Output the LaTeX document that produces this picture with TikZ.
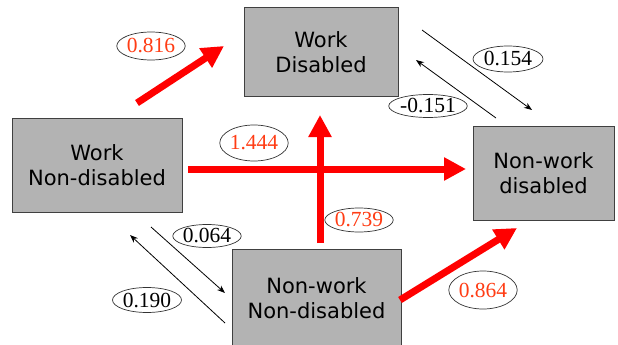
\documentclass[tikz,border=0pt]{standalone}
\usepackage{fontspec}
\setmainfont{Liberation Serif}
\newfontfamily\boxfont{DejaVu Sans}
\usetikzlibrary{arrows.meta,shapes.geometric}
\definecolor{boxgray}{RGB}{179,179,179}
\definecolor{boxedge}{RGB}{64,64,64}
\definecolor{numred}{RGB}{255,60,20}
\tikzset{
  statebox/.style={draw=boxedge,line width=1pt,fill=boxgray,align=center,inner sep=0pt,
    font=\boxfont\fontsize{21}{25}\selectfont},
  bigarrow/.style={draw=red,line width=7pt,-{Triangle[length=22pt,width=22pt]}},
  thinarrow/.style={draw=black,line width=0.8pt,-{Stealth[length=8pt,width=6pt]}},
  numlabel/.style={ellipse,draw=black!80,line width=0.7pt,inner sep=0pt,
    font=\fontsize{21.5}{24}\selectfont},
}
\begin{document}
\begin{tikzpicture}[x=1pt,y=-1pt]
\useasboundingbox (0,0) rectangle (618,345);
\clip (0,0) rectangle (618,345);
% boxes
\node[statebox,minimum width=154pt,minimum height=88pt] (wd) at (321,52) {Work\\Disabled};
\node[statebox,minimum width=170pt,minimum height=94pt] (wn) at (97,165) {Work\\Non-disabled};
\node[statebox,minimum width=141pt,minimum height=94pt] (nd) at (543.5,173) {Non-work\\disabled};
\node[statebox,minimum width=169pt,minimum height=98pt] (nn) at (316.5,298) {Non-work\\Non-disabled};
% arrow endpoints
\coordinate (r1s) at (137,103); \coordinate (r1e) at (224,46);
\coordinate (r2s) at (188,169); \coordinate (r2e) at (466,169);
\coordinate (r3s) at (320,243); \coordinate (r3e) at (320,115);
\coordinate (r4s) at (400,300); \coordinate (r4e) at (517,228);
\coordinate (b1s) at (422,30);  \coordinate (b1e) at (532,110);
\coordinate (b2s) at (496,118); \coordinate (b2e) at (416,60);
\coordinate (b3s) at (151,227); \coordinate (b3e) at (225,293);
\coordinate (b4s) at (225,323); \coordinate (b4e) at (130,235);
% red arrows
\draw[bigarrow] (r2s) -- (r2e);
\draw[bigarrow] (r3s) -- (r3e);
\draw[bigarrow] (r1s) -- (r1e);
\draw[bigarrow] (r4s) -- (r4e);
% thin arrows
\draw[thinarrow] (b1s) -- (b1e);
\draw[thinarrow] (b2s) -- (b2e);
\draw[thinarrow] (b3s) -- (b3e);
\draw[thinarrow] (b4s) -- (b4e);
% labels
\node[numlabel,text=numred,minimum width=61pt,minimum height=28pt] (l1) at (151,46) {0.816};
\node[numlabel,text=numred,minimum width=60pt,minimum height=36pt] (l2) at (254,143) {1.444};
\node[numlabel,text=numred,minimum width=63pt,minimum height=24pt] (l3) at (359,220) {0.739};
\node[numlabel,text=numred,minimum width=65pt,minimum height=38pt] (l4) at (483,290) {0.864};
\node[numlabel,minimum width=70pt,minimum height=26pt] (l5) at (508,59) {0.154};
\node[numlabel,minimum width=63pt,minimum height=23pt] (l6) at (428,106) {-0.151};
\node[numlabel,minimum width=62pt,minimum height=23pt] (l7) at (207,236) {0.064};
\node[numlabel,minimum width=69pt,minimum height=25pt] (l8) at (147,300) {0.190};
\end{tikzpicture}
\end{document}
